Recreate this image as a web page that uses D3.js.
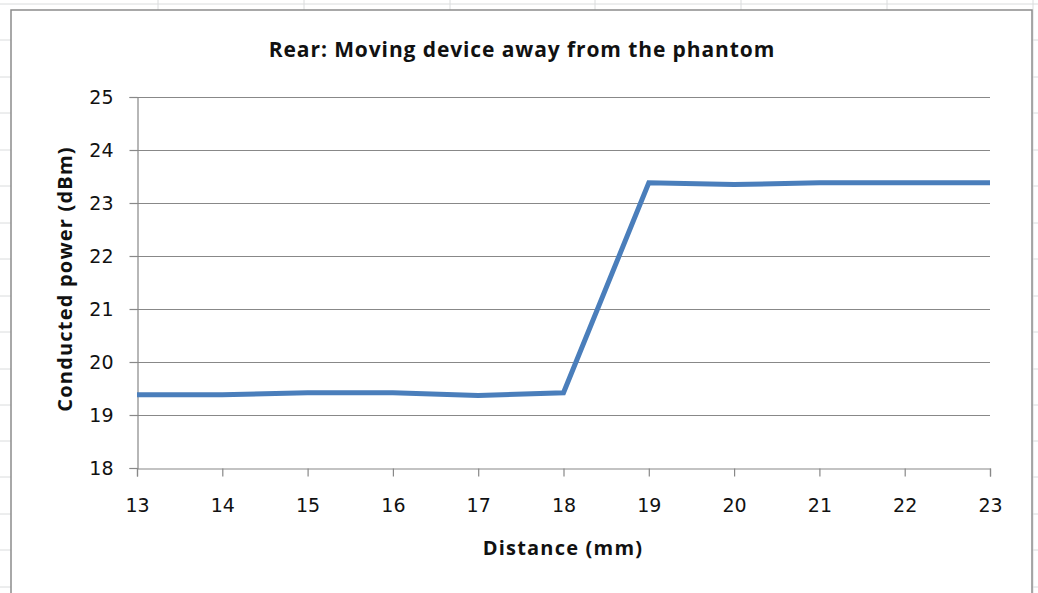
<!DOCTYPE html>
<html>
<head>
<meta charset="utf-8">
<script src="https://cdn.jsdelivr.net/npm/d3@7"></script>
<style>
  html, body { margin: 0; padding: 0; background: #fff; }
  svg { display: block; }
  text { font-family: "Open Sans", "Liberation Sans", sans-serif; }
</style>
</head>
<body>
<svg id="chart" width="1038" height="593"></svg>
<script>
// ---- data ----
const distances = [13, 14, 15, 16, 17, 18, 19, 20, 21, 22, 23];
const power = [19.38, 19.38, 19.42, 19.42, 19.37, 19.42, 23.38, 23.35, 23.38, 23.38, 23.38];
const yTicks = [18, 19, 20, 21, 22, 23, 24, 25];
const xTicks = [13, 14, 15, 16, 17, 18, 19, 20, 21, 22, 23];
const titleText = "Rear: Moving device away from the phantom";
const xTitle = "Distance (mm)";
const yTitle = "Conducted power (dBm)";

const svg = d3.select("#chart");
const W = 1038, H = 593;

// spreadsheet background grid
const sheetCols = [158, 304, 450, 595, 741, 887, 1033];
const sheetRows = [4, 40, 77, 113, 150, 186, 223, 259, 296, 332, 369, 405, 441, 477, 514, 550, 587];
const bg = svg.append("g");
bg.selectAll("line.c").data(sheetCols).join("line")
  .attr("x1", d => d).attr("x2", d => d).attr("y1", 0).attr("y2", H)
  .attr("stroke", "#dadcdd").attr("stroke-width", 1);
bg.selectAll("line.r").data(sheetRows).join("line")
  .attr("x1", 0).attr("x2", W).attr("y1", d => d).attr("y2", d => d)
  .attr("stroke", "#dadcdd").attr("stroke-width", 1);

// chart frame
svg.append("rect").attr("x", 11).attr("y", 10).attr("width", 1021).attr("height", 590)
  .attr("fill", "#fff").attr("stroke", "#8c8c8c").attr("stroke-width", 1.5);

const pLeft = 137, pRight = 990, pTop = 97, pBottom = 468;
const x = d3.scaleLinear().domain([13, 23]).range([pLeft, pRight]);
const y = d3.scaleLinear().domain([18, 25]).range([pBottom, pTop]);

// gridlines
svg.append("g").selectAll("line").data(yTicks.filter(d => d > 18)).join("line")
  .attr("x1", pLeft).attr("x2", pRight)
  .attr("y1", d => y(d) + 0.5).attr("y2", d => y(d) + 0.5)
  .attr("stroke", "#888").attr("stroke-width", 1.2);

// axes
const yAxis = svg.append("g").attr("transform", `translate(${pLeft + 0.5},0)`)
  .call(d3.axisLeft(y).tickValues(yTicks).tickSize(8).tickPadding(16).tickFormat(d3.format("d")));
const xAxis = svg.append("g").attr("transform", `translate(0,${pBottom + 0.5})`)
  .call(d3.axisBottom(x).tickValues(xTicks).tickSize(8).tickPadding(22).tickFormat(d3.format("d")));
[yAxis, xAxis].forEach(a => {
  a.select(".domain").attr("stroke", "#888").attr("stroke-width", 1.2);
  a.selectAll(".tick line").attr("stroke", "#888").attr("stroke-width", 1.2);
  a.selectAll(".tick text").attr("fill", "#111").style("font-size", "19px")
    .style("font-family", "\"DejaVu Sans\", sans-serif");
});

// line
svg.append("path").datum(distances.map((d, i) => [d, power[i]]))
  .attr("d", d3.line().x(d => x(d[0])).y(d => y(d[1])))
  .attr("fill", "none").attr("stroke", "#4a7ebb").attr("stroke-width", 5)
  .attr("stroke-linejoin", "miter");

// titles
svg.append("text").attr("x", 522).attr("y", 57).attr("text-anchor", "middle")
  .style("font-size", "21px").style("font-weight", "bold").style("letter-spacing", "0.9px")
  .attr("fill", "#111").text(titleText);
svg.append("text").attr("x", 563).attr("y", 555).attr("text-anchor", "middle")
  .style("font-size", "20px").style("font-weight", "bold").style("letter-spacing", "1.2px")
  .attr("fill", "#111").text(xTitle);
svg.append("text").attr("transform", "translate(72,279) rotate(-90)").attr("text-anchor", "middle")
  .style("font-size", "20px").style("font-weight", "bold").style("letter-spacing", "1.2px")
  .attr("fill", "#111").text(yTitle);
</script>
</body>
</html>
